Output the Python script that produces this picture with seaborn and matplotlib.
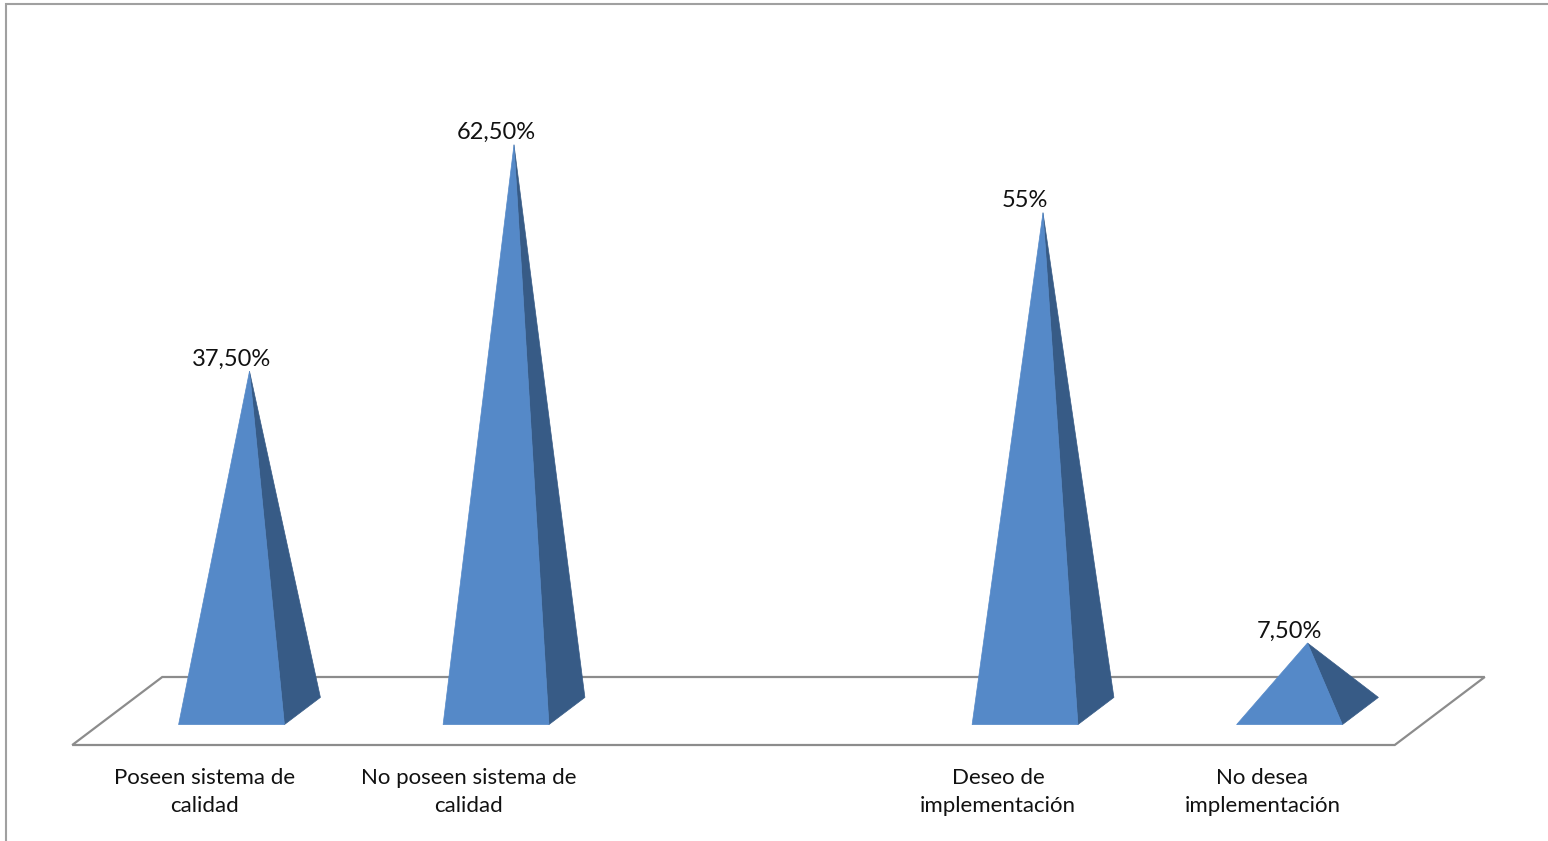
import numpy as np
import pandas as pd
import matplotlib
matplotlib.use("Agg")
import matplotlib.pyplot as plt
from matplotlib.patches import Polygon, Rectangle
import seaborn as sns

# Survey results (percent of respondents); the third slot is an empty spacer
categories = [
    "Poseen sistema de\ncalidad",
    "No poseen sistema de\ncalidad",
    "",
    "Deseo de\nimplementación",
    "No desea\nimplementación",
]
values = [37.5, 62.5, np.nan, 55.0, 7.5]
value_labels = ["37,50%", "62,50%", "", "55%", "7,50%"]

df = pd.DataFrame({"categoria": categories, "porcentaje": values, "etiqueta": value_labels})

sns.set_theme(style="white")
plt.rcParams["font.family"] = ["Lato", "DejaVu Sans"]

FRONT = "#5589c8"
SIDE = "#375b86"
FLOOR_EDGE = "#8c8c8c"
TEXT = "#111111"

# Oblique projection: a depth d in [0, 1] shifts a point right and up
PX_CAT = 264.5      # pixels per category slot
PX_PCT = 9.06       # pixels per percentage point
X0, Y0 = 204.5, 745.0
DX = 90.0 / PX_CAT  # horizontal shift for full floor depth (category units)
DY = 68.0 / PX_PCT  # vertical shift for full floor depth (percent units)


def proj(x, d, v):
    return (x + DX * d, v + DY * d)


fig = plt.figure(figsize=(15.48, 8.41), dpi=100)
fig.patch.set_facecolor("white")
ax = fig.add_axes([0, 0, 1, 1])
ax.set_xlim(-X0 / PX_CAT, (1548 - X0) / PX_CAT)
ax.set_ylim((Y0 - 841) / PX_PCT, Y0 / PX_PCT)
ax.axis("off")

# chart-area frame
fig.patches.append(Rectangle((6 / 1548, -0.05), 1.1, 1 - 4 / 841 + 0.05,
                             transform=fig.transFigure, fill=False,
                             edgecolor="#a0a0a0", linewidth=1.5, zorder=0))

n = len(df)
# floor
floor = [proj(-0.5, 0, 0), proj(n - 0.5, 0, 0), proj(n - 0.5, 1, 0), proj(-0.5, 1, 0)]
ax.add_patch(Polygon(floor, closed=True, facecolor="white", edgecolor=FLOOR_EDGE,
                     linewidth=1.6, zorder=1))

HW = 0.2             # half base width (category units)
D0, D1 = 0.3, 0.7    # base depth range

for i, row in df.iterrows():
    # category label under the floor
    ax.annotate(row["categoria"], xy=(i, 0), xytext=(0, -33.5), textcoords="offset points",
                ha="center", va="center", fontsize=16, color=TEXT, linespacing=1.5)
    v = row["porcentaje"]
    if np.isnan(v):
        continue
    apex = proj(i, 0.5 * (D0 + D1), v)
    front = [proj(i - HW, D0, 0), proj(i + HW, D0, 0), apex]
    side = [proj(i + HW, D0, 0), proj(i + HW, D1, 0), apex]
    ax.add_patch(Polygon(side, closed=True, facecolor=SIDE, edgecolor=SIDE,
                         linewidth=0.5, zorder=2))
    ax.add_patch(Polygon(front, closed=True, facecolor=FRONT, edgecolor=FRONT,
                         linewidth=0.5, zorder=3))
    lx = proj(i, D0, 0)[0]
    ax.annotate(row["etiqueta"], xy=(lx, apex[1]), xytext=(0, 4), textcoords="offset points",
                ha="center", va="baseline", fontsize=17, color=TEXT, zorder=4)

fig.savefig("out.png", dpi=100, facecolor="white")
